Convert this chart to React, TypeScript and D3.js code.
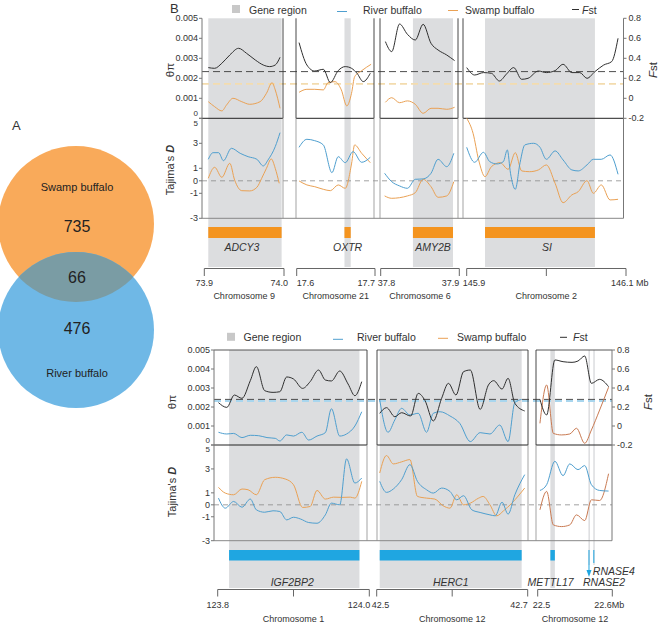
import React from 'react';
import * as d3 from 'd3';

type Pt = [number, number];

// ===================== DATA =====================
const vennSets = ['Swamp buffalo', 'River buffalo'];
const vennCounts = [735, 66, 476]; // swamp only, shared, river only

const legendLabels = ['Gene region', 'River buffalo', 'Swamp buffalo'];

const piTicks = [0, 0.001, 0.002, 0.003, 0.004, 0.005];
const piTickLabels = ['0', '0.001', '0.002', '0.003', '0.004', '0.005'];
const fstTicks = [-0.2, 0, 0.2, 0.4, 0.6, 0.8];
const fstTickLabels = ['-0.2', '0', '0.2', '0.4', '0.6', '0.8'];
const dTicks = [-3, -1, 0, 1, 3, 5];
const dTickLabels = ['-3', '-1', '0', '1', '3', '5'];

// ---- Upper figure ----
const upChromosomes = ['Chromosome 9', 'Chromosome 21', 'Chromosome 6', 'Chromosome 2'];
const upRanges: Pt[] = [[73.9, 74.0], [17.6, 17.7], [37.8, 37.9], [145.9, 146.1]];
const upTicks = [[73.9, 74.0], [17.6, 17.7], [37.8, 37.9], [145.9, 146.0, 146.1]];
const upTickLabels = [['73.9', '74.0'], ['17.6', '17.7'], ['37.8', '37.9'], ['145.9', '', '146.1 Mb']];
const upGenes = ['ADCY3', 'OXTR', 'AMY2B', 'SI'];
const upGeneSpans: Pt[] = [[73.905, 73.997], [17.661, 17.669], [37.841, 37.892], [145.923, 146.061]];
const upFstMean = 0.267;
const upSwampPiMean = 0.00172;

const upFst1: Pt[] = [[73.905, 0.307], [73.913, 0.3], [73.922, 0.35], [73.932, 0.433], [73.943, 0.5], [73.953, 0.45], [73.964, 0.383], [73.974, 0.333], [73.982, 0.317], [73.989, 0.333], [73.995, 0.41]];
const upPi1: Pt[] = [[73.905, 0.00083], [73.913, 0.00058], [73.922, 0.00037], [73.928, 0.00067], [73.936, 0.001], [73.947, 0.00083], [73.957, 0.0007], [73.97, 0.00083], [73.978, 0.00125], [73.985, 0.00178], [73.989, 0.00142], [73.995, 0.0005]];
const upDR1: Pt[] = [[73.905, 1.72], [73.911, 2.25], [73.918, 2.25], [73.924, 1.61], [73.934, 2.6], [73.945, 2.2], [73.955, 1.93], [73.966, 1.72], [73.974, 1.19], [73.98, 1.67], [73.989, 2.73], [73.995, 3.85]];
const upDS1: Pt[] = [[73.905, 0.2], [73.913, 1.08], [73.922, 0.28], [73.932, 1.4], [73.938, 0.07], [73.947, -0.79], [73.957, -0.81], [73.966, -0.52], [73.972, 0.2], [73.978, 1.0], [73.984, 1.75], [73.989, 1.0], [73.994, -0.2]];

const upFst2: Pt[] = [[17.603, 0.557], [17.613, 0.333], [17.623, 0.273], [17.634, 0.29], [17.643, 0.157], [17.653, 0.277], [17.662, 0.317], [17.67, 0.3], [17.677, 0.25], [17.685, 0.167], [17.694, 0.25]];
const upPi2: Pt[] = [[17.603, 0.0013], [17.613, 0.00145], [17.623, 0.00145], [17.634, 0.00142], [17.64, 0.00178], [17.649, 0.00183], [17.657, 0.00142], [17.664, 0.00062], [17.67, 0.00125], [17.674, 0.00208], [17.683, 0.00238], [17.695, 0.0027]];
const upDR2: Pt[] = [[17.603, 2.68], [17.613, 3.32], [17.623, 3.21], [17.634, 2.87], [17.645, 0.65], [17.653, 1.93], [17.662, 1.45], [17.672, 2.33], [17.683, 1.48], [17.694, 1.88]];
const upDS2: Pt[] = [[17.603, -0.01], [17.613, -0.33], [17.623, -0.47], [17.634, -0.68], [17.643, -0.79], [17.653, -0.33], [17.662, -0.6], [17.67, 1.35], [17.674, 2.87], [17.683, 2.2], [17.694, 1.45]];

const upFst3: Pt[] = [[37.806, 0.567], [37.814, 0.467], [37.824, 0.743], [37.834, 0.64], [37.844, 0.583], [37.854, 0.74], [37.864, 0.55], [37.873, 0.483], [37.884, 0.433], [37.894, 0.377]];
const upPi3: Pt[] = [[37.806, 0.0008], [37.814, 0.00103], [37.824, 0.00078], [37.834, 0.00087], [37.844, 0.0007], [37.854, 0.00025], [37.864, 0.0005], [37.873, 0.0005], [37.884, 0.00045], [37.894, 0.00055]];
const upDR3: Pt[] = [[37.805, 0.6], [37.814, -0.07], [37.824, -0.41], [37.834, -0.6], [37.844, 0.12], [37.854, 0.15], [37.864, 0.6], [37.873, 1.72], [37.884, 1.13], [37.893, 2.2]];
const upDS3: Pt[] = [[37.805, -1.21], [37.814, -1.4], [37.824, -1.35], [37.834, -1.21], [37.844, -0.95], [37.854, 0.12], [37.864, -0.47], [37.873, -1.32], [37.884, -1.21], [37.893, -0.07]];

const upFst4: Pt[] = [[145.9, 0.307], [145.91, 0.233], [145.921, 0.257], [145.931, 0.25], [145.941, 0.173], [145.95, 0.243], [145.959, 0.307], [145.969, 0.19], [145.977, 0.2], [145.99, 0.273], [146.0, 0.257], [146.011, 0.277], [146.021, 0.34], [146.032, 0.257], [146.042, 0.257], [146.051, 0.2], [146.061, 0.267], [146.072, 0.333], [146.082, 0.367], [146.09, 0.6]];
const upDR4: Pt[] = [[145.9, 2.68], [145.91, 1.48], [145.921, 2.28], [145.929, 1.53], [145.938, 1.35], [145.946, 1.53], [145.951, 2.47], [145.955, 0.6], [145.961, -0.68], [145.967, 1.45], [145.973, 2.87], [145.984, 3.0], [145.992, 2.68], [146.0, 1.72], [146.011, 2.39], [146.021, 1.67], [146.032, 0.87], [146.04, 0.79], [146.051, 1.27], [146.059, 1.72], [146.069, 1.72], [146.08, 2.07], [146.09, 0.52]];
const upDS4: Pt[] = [[145.9, 5.0], [145.908, 3.8], [145.915, 1.67], [145.923, 0.33], [145.931, 1.13], [145.942, 1.45], [145.952, 0.92], [145.961, 2.25], [145.969, 0.79], [145.979, 0.73], [145.99, 0.87], [146.0, 1.27], [146.011, -0.2], [146.021, -1.75], [146.032, -1.13], [146.04, -0.87], [146.051, 0.01], [146.059, -1.0], [146.069, -0.33], [146.08, -1.53], [146.09, -1.48]];

// ---- Lower figure ----
const loChromosomes = ['Chromosome 1', 'Chromosome 12', 'Chromosome 12'];
const loRanges: Pt[] = [[123.8, 124.0], [42.5, 42.7], [22.5, 22.6]];
const loTicks = [[123.8, 123.9, 124.0], [42.5, 42.6, 42.7], [22.5, 22.6]];
const loTickLabels = [['123.8', '', '124.0'], ['42.5', '', '42.7'], ['22.5', '22.6Mb']];
const loGenes = [['IGF2BP2'], ['HERC1'], ['METTL17', 'RNASE2', 'RNASE4']];
const loGeneSpans: Pt[][] = [[[123.815, 123.987]], [[42.504, 42.692]], [[22.517, 22.523], [22.568, 22.5695], [22.5745, 22.576]]];
const loFstMean = 0.28;
const loRiverPiMean = 0.00232;

const loFst1: Pt[] = [[123.801, 0.246], [123.812, 0.196], [123.822, 0.326], [123.832, 0.291], [123.843, 0.477], [123.851, 0.625], [123.862, 0.372], [123.873, 0.354], [123.882, 0.361], [123.891, 0.516], [123.9, 0.495], [123.912, 0.396], [123.922, 0.467], [123.933, 0.589], [123.942, 0.484], [123.95, 0.474], [123.961, 0.579], [123.972, 0.442], [123.981, 0.319], [123.99, 0.467]];
const loPi1: Pt[] = [[123.801, 0.00067], [123.812, 0.00058], [123.821, 0.00061], [123.832, 0.00039], [123.843, 0.00051], [123.854, 0.00049], [123.865, 0.00039], [123.876, 0.00035], [123.882, 0.00021], [123.891, 0.00053], [123.9, 0.00047], [123.911, 0.00067], [123.92, 0.00026], [123.931, 0.00047], [123.942, 0.00065], [123.95, 0.00191], [123.961, 0.00047], [123.97, 0.00058], [123.981, 0.001], [123.99, 0.00175]];
const loDS1: Pt[] = [[123.801, 1.46], [123.81, 0.98], [123.821, 0.84], [123.832, 1.32], [123.84, 1.26], [123.851, 0.84], [123.862, 2.1], [123.876, 2.3], [123.889, 2.16], [123.9, 1.68], [123.912, -0.22], [123.922, -0.14], [123.931, 1.2], [123.942, 0.48], [123.953, 0.64], [123.964, 0.62], [123.975, 0.64], [123.981, 0.56], [123.99, 1.96]];
const loDR1: Pt[] = [[123.801, 0.56], [123.81, -0.28], [123.821, 0.28], [123.832, -0.2], [123.843, 0.48], [123.851, -0.42], [123.862, -0.62], [123.873, -0.5], [123.882, -0.56], [123.891, -1.26], [123.9, -1.04], [123.909, -1.18], [123.92, -1.48], [123.931, -1.54], [123.942, -0.84], [123.95, 0.14], [123.961, 0.0], [123.97, 3.84], [123.981, 1.82], [123.99, 2.24]];

const loFst2: Pt[] = [[42.504, 0.133], [42.513, 0.193], [42.524, 0.098], [42.533, 0.14], [42.545, 0.105], [42.555, 0.344], [42.564, 0.267], [42.575, 0.053], [42.586, 0.291], [42.595, 0.449], [42.605, 0.326], [42.615, 0.572], [42.624, 0.589], [42.637, 0.175], [42.648, 0.432], [42.655, 0.477], [42.666, 0.389], [42.674, 0.502], [42.683, 0.239], [42.696, 0.158]];
const loPi2: Pt[] = [[42.504, 0.00237], [42.515, 0.00067], [42.524, 0.00132], [42.533, 0.00193], [42.544, 0.00158], [42.555, 0.00167], [42.566, 0.00067], [42.575, 0.00167], [42.584, 0.00175], [42.597, 0.00153], [42.61, 0.00114], [42.624, 0.00018], [42.637, 0.00065], [42.65, 0.00058], [42.663, 0.00105], [42.674, 0.00018], [42.683, 0.00223], [42.692, 0.0024]];
const loDS2: Pt[] = [[42.504, 2.66], [42.513, 4.12], [42.522, 3.42], [42.533, 3.59], [42.544, 3.78], [42.554, 0.7], [42.566, 0.56], [42.577, 0.48], [42.588, -0.08], [42.597, -0.28], [42.606, 0.84], [42.615, 0.0], [42.624, 0.14], [42.635, 0.56], [42.641, 0.7], [42.65, 0.0], [42.659, -0.92], [42.668, -0.5], [42.679, 0.14], [42.696, 1.4]];
const loDR2: Pt[] = [[42.504, 1.96], [42.513, 1.04], [42.522, 1.32], [42.533, 2.1], [42.544, 3.36], [42.554, 1.96], [42.566, 1.26], [42.575, 0.98], [42.586, 1.4], [42.597, 1.12], [42.606, 0.42], [42.615, 0.76], [42.626, -0.42], [42.637, -0.64], [42.65, -0.84], [42.657, -0.92], [42.666, 0.22], [42.674, -0.78], [42.683, 0.84], [42.696, 2.52]];

const loFst3: Pt[] = [[22.503, 0.281], [22.512, 0.116], [22.523, 0.695], [22.534, 0.677], [22.546, 0.67], [22.554, 0.684], [22.563, 0.737], [22.572, 0.449], [22.583, 0.491], [22.595, 0.414]];
const loPi3: Pt[] = [[22.503, 0.00114], [22.512, 0.00316], [22.521, 0.00061], [22.532, 0.00053], [22.543, 0.00058], [22.552, 0.00088], [22.563, 0.00009], [22.572, 0.00079], [22.583, 0.00184], [22.595, 0.00304]];
const loDR3: Pt[] = [[22.503, 1.2], [22.512, 1.68], [22.523, 3.64], [22.534, 2.44], [22.543, 3.42], [22.554, 2.94], [22.563, 3.28], [22.572, 1.68], [22.583, 1.2], [22.595, 1.15]];
const loDS3: Pt[] = [[22.503, -0.42], [22.512, 1.12], [22.521, -1.68], [22.532, -1.82], [22.543, -1.68], [22.552, -0.84], [22.563, -1.32], [22.572, 0.42], [22.583, 0.36], [22.595, 2.6]];

// ===================== STYLE =====================
const FONT = '"Liberation Sans", Arial, Helvetica, sans-serif';
const GRAY = '#dcdddf';
const FST_C = '#2f2f2f';
const RIVER_C = '#4f9fcf';
const SWAMP_C = '#eaa154';
const SWAMP_C2 = '#c97a52';
const ORANGE_BAR = '#f4941f';
const BLUE_BAR = '#1fa6e1';
const TXT = '#333';

type PanelDef = {
  range: Pt; ticks: number[]; tickLabels: string[]; chrom: string;
  genes: string[]; spans: Pt[];
  fst: Pt[]; pi: Pt[] | null; piColor: string;
  dR: Pt[]; dS: Pt[]; sColor: string;
};

const upPanels: PanelDef[] = upRanges.map((r, i) => ({
  range: r, ticks: upTicks[i], tickLabels: upTickLabels[i], chrom: upChromosomes[i],
  genes: [upGenes[i]], spans: [upGeneSpans[i]],
  fst: [upFst1, upFst2, upFst3, upFst4][i],
  pi: [upPi1, upPi2, upPi3, null][i], piColor: SWAMP_C,
  dR: [upDR1, upDR2, upDR3, upDR4][i], dS: [upDS1, upDS2, upDS3, upDS4][i], sColor: SWAMP_C,
}));

const loPanels: PanelDef[] = loRanges.map((r, i) => ({
  range: r, ticks: loTicks[i], tickLabels: loTickLabels[i], chrom: loChromosomes[i],
  genes: loGenes[i], spans: loGeneSpans[i],
  fst: [loFst1, loFst2, loFst3][i],
  pi: [loPi1, loPi2, loPi3][i], piColor: i === 2 ? SWAMP_C2 : RIVER_C,
  dR: [loDR1, loDR2, loDR3][i], dS: [loDS1, loDS2, loDS3][i], sColor: i === 2 ? SWAMP_C2 : SWAMP_C,
}));

// layout (pixel geometry)
const UP_L = {
  piTop: 18.3, mid: 118.3, dBot: 218.3, topBorder: false,
  frames: [[202, 283], [296, 374], [380, 458], [463, 623.5]],
  axisX: [[204.3, 284], [296.7, 375], [380.7, 459.3], [466.7, 626]],
  grayBot: 267, barY: 227, barH: 11, barColor: ORANGE_BAR, geneY: 247,
  axisY: 268.5, tickLen: 7.5, tickLabelY: 283, chromY: 296,
  tickAnchors: [['middle', 'end'], ['start', 'end'], ['start', 'end'], ['start', 'middle', 'start']],
  tickDx: [[0, 4], [0, 0], [-3, 0], [-4, 0, -15]],
  geneDx: [[-3], [0], [0], [7]], geneDy: [[0], [0], [0], [0]], geneAnchor: [['middle'], ['middle'], ['middle'], ['middle']],
  legendY: 9.5, legendX: [232, 337, 448, 572], legendTextX: [249, 363, 465, 582],
  titleX: 170, piTitleY: 70, dTitleY: 170, fstTitleX: 653,
  fstMean: upFstMean, piMean: upSwampPiMean, piMeanColor: '#f3dcae', piMeanW: 1.6,
};

const LO_L = {
  piTop: 350, mid: 445, dBot: 540.7, topBorder: true,
  frames: [[214, 367], [377, 528], [536, 612]],
  axisX: [[217.7, 369.3], [376.7, 527.7], [537.7, 612.3]],
  grayBot: 588, barY: 550, barH: 10.5, barColor: BLUE_BAR, geneY: 582,
  axisY: 589.5, tickLen: 7, tickLabelY: 605, chromY: 618.5,
  tickAnchors: [['middle', 'middle', 'end'], ['start', 'middle', 'end'], ['start', 'end']],
  tickDx: [[0, 0, 1], [-5, 0, 0], [-5, 12]],
  geneDx: [[-2], [0], [-2, 15, -1]], geneDy: [[0], [0], [0, 0, -11]], geneAnchor: [['middle'], ['middle'], ['middle', 'middle', 'start']],
  legendY: 337.3, legendX: [227, 333, 438, 560], legendTextX: [243.5, 357, 457, 573],
  titleX: 172, piTitleY: 402, dTitleY: 492, fstTitleX: 648,
  fstMean: loFstMean, piMean: loRiverPiMean, piMeanColor: '#a9d6ee', piMeanW: 2,
};

function Section({ L, panels }: { L: any; panels: PanelDef[] }) {
  const yPi = d3.scaleLinear().domain([0, 0.005]).range([L.mid, L.piTop]);
  const yF = d3.scaleLinear().domain([-0.2, 0.8]).range([L.mid, L.piTop]);
  const yD = d3.scaleLinear().domain([-3, 5]).range([L.dBot, L.mid]);
  const left = L.frames[0][0];
  const right = L.frames[L.frames.length - 1][1];
  const mk = (y: d3.ScaleLinear<number, number>, x: d3.ScaleLinear<number, number>) =>
    d3.line<Pt>().x(d => x(d[0])).y(d => y(d[1])).curve(d3.curveMonotoneX);

  const ys = L.legendY;
  return (
    <g>
      {/* gene region shading */}
      {panels.map((p, i) => {
        const x = d3.scaleLinear().domain(p.range).range(L.axisX[i]);
        const [fl, fr] = L.frames[i];
        return p.spans.map((s, j) => {
          const a = Math.max(fl, x(s[0]));
          const b = Math.min(fr, x(s[1]));
          const thin = b - a < 2;
          return <rect key={`g${i}-${j}`} x={a} y={L.piTop} width={Math.max(1.5, b - a)}
            height={(thin ? 565 : L.grayBot) - L.piTop} fill={GRAY} />;
        });
      })}

      {/* mean lines */}
      <line x1={left} x2={right} y1={yPi(L.piMean)} y2={yPi(L.piMean)} stroke={L.piMeanColor} strokeWidth={L.piMeanW} strokeDasharray="7,4" />
      <line x1={left} x2={right} y1={yF(L.fstMean)} y2={yF(L.fstMean)} stroke="#3a3a3a" strokeWidth={0.9} strokeDasharray="7,4" />
      <line x1={left} x2={right} y1={yD(0)} y2={yD(0)} stroke="#8a8a8a" strokeWidth={0.8} strokeDasharray="5,4" />

      {/* frames */}
      {panels.map((p, i) => {
        const [fl, fr] = L.frames[i];
        return (
          <g key={`f${i}`}>
            <line x1={fl} x2={fr} y1={L.mid} y2={L.mid} stroke="#222" strokeWidth={1} />
            {L.topBorder && <line x1={fl} x2={fr} y1={L.piTop} y2={L.piTop} stroke="#444" strokeWidth={0.9} />}
            {i > 0 && <line x1={fl} x2={fl} y1={L.piTop} y2={L.mid} stroke="#333" strokeWidth={0.9} />}
            {i < panels.length - 1 && <line x1={fr} x2={fr} y1={L.piTop} y2={L.mid} stroke="#333" strokeWidth={0.9} />}
            {i > 0 && <line x1={fl} x2={fl} y1={L.mid} y2={L.dBot} stroke="#999" strokeWidth={0.9} />}
            {i < panels.length - 1 && <line x1={fr} x2={fr} y1={L.mid} y2={L.dBot} stroke="#999" strokeWidth={0.9} />}
          </g>
        );
      })}
      <line x1={left} x2={right} y1={L.dBot} y2={L.dBot} stroke="#888" strokeWidth={1} />
      <line x1={left} x2={left} y1={L.piTop} y2={L.dBot} stroke="#777" strokeWidth={1} />
      <line x1={right} x2={right} y1={L.piTop} y2={L.dBot} stroke="#777" strokeWidth={1} />

      {/* data lines */}
      {panels.map((p, i) => {
        const x = d3.scaleLinear().domain(p.range).range(L.axisX[i]);
        return (
          <g key={`l${i}`} fill="none" strokeWidth={1}>
            <path d={mk(yD, x)(p.dS) || ''} stroke={p.sColor} />
            <path d={mk(yD, x)(p.dR) || ''} stroke={RIVER_C} />
            {p.pi && <path d={mk(yPi, x)(p.pi) || ''} stroke={p.piColor} />}
            <path d={mk(yF, x)(p.fst) || ''} stroke={FST_C} />
          </g>
        );
      })}

      {/* left axis ticks */}
      {piTicks.map((t, k) => (
        <g key={`pt${k}`}>
          <line x1={left - 3} x2={left} y1={yPi(t)} y2={yPi(t)} stroke="#777" />
          <text x={left - 4} y={yPi(t) + (t === 0 ? -4.8 : 0)} fontSize={t === 0 ? 8 : 9} fill={TXT} textAnchor="end" dominantBaseline="central">{piTickLabels[k]}</text>
        </g>
      ))}
      {dTicks.map((t, k) => (
        <g key={`dt${k}`}>
          <line x1={left - 3} x2={left} y1={yD(t)} y2={yD(t)} stroke="#777" />
          <text x={left - 4} y={yD(t) + (t === 5 ? 4.8 : 0)} fontSize={t === 5 ? 8 : 9} fill={TXT} textAnchor="end" dominantBaseline="central">{dTickLabels[k]}</text>
        </g>
      ))}
      {fstTicks.map((t, k) => (
        <g key={`ft${k}`}>
          <line x1={right} x2={right + 3} y1={yF(t)} y2={yF(t)} stroke="#777" />
          <text x={right + 5} y={yF(t)} fontSize={9} fill={TXT} textAnchor="start" dominantBaseline="central">{fstTickLabels[k]}</text>
        </g>
      ))}

      {/* axis titles */}
      <text transform={`translate(${L.titleX},${L.piTitleY}) rotate(-90)`} fontSize={11.5} fill={TXT} textAnchor="middle" dominantBaseline="central">θπ</text>
      <text transform={`translate(${L.titleX},${L.dTitleY}) rotate(-90)`} fontSize={11} fill={TXT} textAnchor="middle" dominantBaseline="central">Tajima's <tspan fontStyle="italic" fontWeight="bold">D</tspan></text>
      <text transform={`translate(${L.fstTitleX},${L.piTitleY}) rotate(-90)`} fontSize={11.5} fill={TXT} textAnchor="middle" dominantBaseline="central"><tspan fontStyle="italic">F</tspan>st</text>

      {/* gene bars, labels and genomic axes */}
      {panels.map((p, i) => {
        const x = d3.scaleLinear().domain(p.range).range(L.axisX[i]);
        const [fl, fr] = L.frames[i];
        const [ax0, ax1] = L.axisX[i];
        return (
          <g key={`a${i}`}>
            {p.spans.map((s, j) => {
              const a = Math.max(fl, x(s[0]));
              const b = Math.min(fr, x(s[1]));
              const thin = b - a < 2;
              const mx = (x(s[0]) + x(s[1])) / 2;
              return (
                <g key={`b${j}`}>
                  {thin ? (
                    <g>
                      <line x1={mx} x2={mx} y1={L.barY} y2={j === 1 ? 574 : 563} stroke={BLUE_BAR} strokeWidth={1} />
                      {j === 1 && <path d={`M${mx - 2.5},${570} L${mx},${577} L${mx + 2.5},${570} Z`} fill={BLUE_BAR} />}
                    </g>
                  ) : (
                    <rect x={a} y={L.barY} width={b - a} height={L.barH} fill={L.barColor} />
                  )}
                  <text x={mx + L.geneDx[i][j]} y={L.geneY + L.geneDy[i][j]} fontSize={10.5} fontStyle="italic" fill={TXT}
                    textAnchor={L.geneAnchor[i][j]} dominantBaseline="central">{p.genes[j]}</text>
                </g>
              );
            })}
            <line x1={ax0} x2={ax1} y1={L.axisY} y2={L.axisY} stroke="#666" strokeWidth={1} />
            {p.ticks.map((t, k) => (
              <g key={`t${k}`}>
                <line x1={x(t)} x2={x(t)} y1={L.axisY} y2={L.axisY + L.tickLen} stroke="#666" strokeWidth={1} />
                <text x={x(t) + L.tickDx[i][k]} y={L.tickLabelY} fontSize={9} fill={TXT}
                  textAnchor={L.tickAnchors[i][k]} dominantBaseline="central">{p.tickLabels[k]}</text>
              </g>
            ))}
            <text x={(ax0 + ax1) / 2} y={L.chromY} fontSize={9} fill={TXT} textAnchor="middle" dominantBaseline="central">{p.chrom}</text>
          </g>
        );
      })}

      {/* legend */}
      <rect x={L.legendX[0]} y={ys - 4.5} width={8} height={8} fill="#c8c8c8" />
      <text x={L.legendTextX[0]} y={ys} fontSize={10.5} fill={TXT} dominantBaseline="central">{legendLabels[0]}</text>
      <line x1={L.legendX[1]} x2={L.legendX[1] + 10} y1={ys + 2} y2={ys + 2} stroke={RIVER_C} />
      <text x={L.legendTextX[1]} y={ys} fontSize={10.5} fill={TXT} dominantBaseline="central">{legendLabels[1]}</text>
      <line x1={L.legendX[2]} x2={L.legendX[2] + 10} y1={ys + 1} y2={ys + 1} stroke={SWAMP_C} />
      <text x={L.legendTextX[2]} y={ys} fontSize={10.5} fill={TXT} dominantBaseline="central">{legendLabels[2]}</text>
      <line x1={L.legendX[3]} x2={L.legendX[3] + 7} y1={ys} y2={ys} stroke={FST_C} />
      <text x={L.legendTextX[3]} y={ys} fontSize={10.5} fill={TXT} dominantBaseline="central"><tspan fontStyle="italic">F</tspan>st</text>
    </g>
  );
}

function Venn() {
  const r = 78;
  const cx = 76, cyS = 224, cyR = 330;
  return (
    <g>
      <defs>
        <clipPath id="swampClip"><circle cx={cx} cy={cyS} r={r} /></clipPath>
      </defs>
      <circle cx={cx} cy={cyS} r={r} fill="#f9aa5a" />
      <circle cx={cx} cy={cyR} r={r} fill="#6fb8e6" />
      <circle cx={cx} cy={cyR} r={r} fill="#7a9ca4" clipPath="url(#swampClip)" />
      <text x={12} y={125} fontSize={13} fill={TXT} dominantBaseline="central">A</text>
      <text x={cx + 1} y={187} fontSize={11} fill="#222" textAnchor="middle" dominantBaseline="central">{vennSets[0]}</text>
      <text x={cx + 1} y={226} fontSize={16} fill="#222" textAnchor="middle" dominantBaseline="central">{vennCounts[0]}</text>
      <text x={cx + 1} y={277} fontSize={16} fill="#222" textAnchor="middle" dominantBaseline="central">{vennCounts[1]}</text>
      <text x={cx + 1} y={328} fontSize={16} fill="#222" textAnchor="middle" dominantBaseline="central">{vennCounts[2]}</text>
      <text x={cx + 1} y={373} fontSize={11} fill="#222" textAnchor="middle" dominantBaseline="central">{vennSets[1]}</text>
    </g>
  );
}

export default function App() {
  return (
    <svg width={661} height={625} style={{ position: 'absolute', left: 0, top: 0, background: '#fff' }} fontFamily={FONT}>
      <Venn />
      <text x={170} y={8} fontSize={13} fill={TXT} dominantBaseline="central">B</text>
      <Section L={UP_L} panels={upPanels} />
      <Section L={LO_L} panels={loPanels} />
    </svg>
  );
}
